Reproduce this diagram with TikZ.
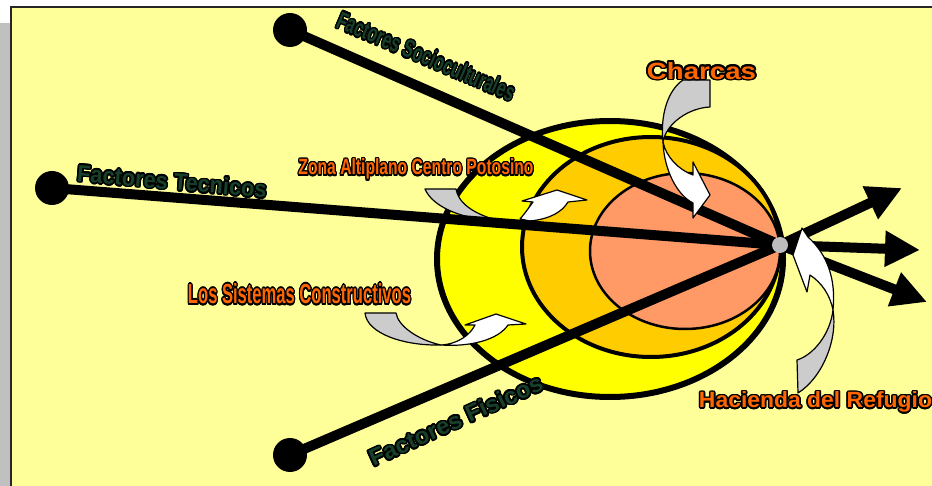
\documentclass[tikz,border=0pt]{standalone}
\usepackage{fontspec}
\setmainfont{Liberation Sans}
\usepackage{graphicx}
\usepackage[copies]{contour}
\contourlength{0.7pt}
\contournumber{16}
\usetikzlibrary{arrows.meta}
\definecolor{bgyel}{HTML}{FFFF99}
\definecolor{ellA}{HTML}{FFFF00}
\definecolor{ellB}{HTML}{FFCC00}
\definecolor{ellC}{HTML}{FF9966}
\definecolor{txtor}{HTML}{FF6600}
\definecolor{txtgr}{HTML}{17402A}
\definecolor{arrgray}{HTML}{CCCCCC}
\definecolor{shadowg}{HTML}{C0C0C0}
\definecolor{hubgray}{HTML}{BDBDBD}
\newcommand\otx[4]{\resizebox{#1pt}{#2pt}{\bfseries\textcolor{#3}{\contour{black}{#4}}}}
\tikzset{
  factorline/.style={line width=10pt, black},
  bigdot/.style={circle, fill=black, minimum size=34pt, inner sep=0},
  hubdot/.style={circle, fill=hubgray, minimum size=16pt, inner sep=0},
  outarrow/.style={line width=10pt, black, -{Triangle[length=35pt,width=34pt]}},
  lbl/.style={inner sep=0, outer sep=0},
  backpart/.style={fill=arrgray, draw=black, line width=1.2pt, line join=round},
  frontpart/.style={fill=white, draw=black, line width=1.2pt, line join=round},
}
\begin{document}
\begin{tikzpicture}[x=1pt,y=-1pt]
\useasboundingbox (0,0) rectangle (932,486);
% panel
\fill[white] (0,0) rectangle (932,486);
\fill[shadowg] (0,23) rectangle (10,486);
\fill[bgyel] (11,7) rectangle (932,486);
\draw[line width=1.5pt, black!85] (11,486) -- (11,7) -- (932,7);
% ellipses
\draw[line width=6pt, fill=ellA] (610,259) ellipse [x radius=173, y radius=138];
\draw[line width=4pt, fill=ellB] (651,247) ellipse [x radius=129, y radius=110];
\draw[line width=2.5pt, fill=ellC] (685,251) ellipse [x radius=95, y radius=78];
% curved arrows under the lines
\path[backpart] (425,189) -- (456,189) .. controls (458,202) and (472,214) .. (500,221) .. controls (465,220) and (433,208) .. (425,189) -- cycle;
\path[frontpart] (520,219) .. controls (526,212) and (530,206) .. (533,202) -- (522,201) -- (557,190) -- (587,200) -- (568,202) .. controls (562,212) and (550,219) .. (530,221) -- cycle;
\path[backpart] (365,313) -- (396,313) .. controls (398,326) and (418,340) .. (441,345) .. controls (405,346) and (367,334) .. (365,313) -- cycle;
\path[frontpart] (441,345) .. controls (458,344) and (470,335) .. (475,325) -- (465,325) -- (496,314) -- (526,324) -- (508,325) .. controls (498,340) and (470,347) .. (441,345) -- cycle;
% nodes
\node[bigdot] (s) at (290,30) {};
\node[bigdot] (t) at (52,188) {};
\node[bigdot] (f) at (290,455) {};
\coordinate (h0) at (780,245);
\coordinate (a1) at (902,188);
\coordinate (a2) at (920,250);
\coordinate (a3) at (927,302);
% lines
\draw[factorline] (s.center) -- (h0);
\draw[factorline] (t.center) -- (h0);
\draw[factorline] (f.center) -- (h0);
\draw[outarrow] (h0) -- (a1);
\draw[outarrow] (h0) -- (a2);
\draw[outarrow] (h0) -- (a3);
% curved arrows over the lines
\path[backpart] (683,80) -- (710,80) -- (710,107) .. controls (688,108) and (666,124) .. (663,142) .. controls (660,115) and (668,90) .. (683,80) -- cycle;
\path[frontpart] (663,142) .. controls (664,170) and (677,195) .. (693,203) -- (693,218) -- (710,195) -- (693,162) -- (693,175) .. controls (679,170) and (666,157) .. (663,142) -- cycle;
\path[frontpart] (833,310) .. controls (836,280) and (828,255) .. (808,237) -- (802,228) -- (793,255) -- (807,292) -- (810,275) .. controls (822,283) and (830,295) .. (833,310) -- cycle;
\path[backpart] (833,310) .. controls (838,340) and (822,378) .. (798,393) -- (797,360) .. controls (813,355) and (830,335) .. (833,310) -- cycle;
\node[hubdot] (h) at (h0) {};
% labels
\node[lbl, rotate=-23] (lsoc) at (426,57) {\otx{191}{18}{txtgr}{Factores Socioculturales}};
\node[lbl, rotate=-5] (ltec) at (172,182) {\otx{190}{17}{txtgr}{Factores Tecnicos}};
\node[lbl, rotate=24.4] (lfis) at (456,421) {\otx{188}{17}{txtgr}{Factores Fisicos}};
\node[lbl] (lzona) at (416,170) {\otx{235}{16}{txtor}{Zona Altiplano Centro Potosino}};
\node[lbl] (lsis) at (299.5,295) {\otx{223}{20}{txtor}{Los Sistemas Constructivos}};
\node[lbl] (lcha) at (701.5,71.5) {\otx{109}{17}{txtor}{Charcas}};
\node[lbl] (lhac) at (815.5,403) {\otx{233}{16}{txtor}{Hacienda del Refugio}};
\end{tikzpicture}
\end{document}
